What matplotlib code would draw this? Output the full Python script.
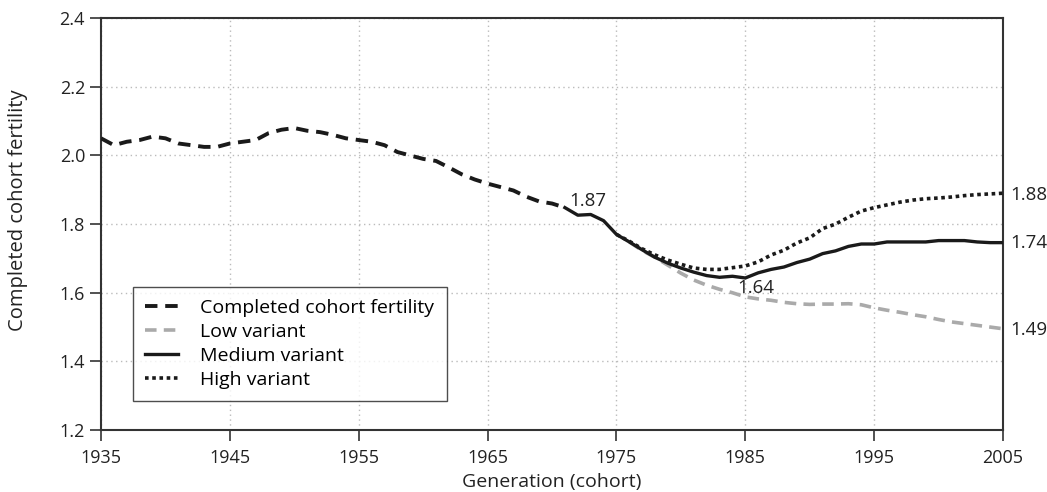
import matplotlib.pyplot as plt

plt.rcParams['font.family'] = ['Open Sans', 'DejaVu Sans']

# completed cohort fertility (observed), 1935-1971
years_obs = list(range(1935, 1972))
completed = [2.05, 2.03, 2.04, 2.045, 2.055, 2.05, 2.035, 2.03, 2.025, 2.025,
             2.035, 2.04, 2.045, 2.065, 2.075, 2.08, 2.072, 2.068, 2.06, 2.05,
             2.045, 2.04, 2.03, 2.01, 2.0, 1.99, 1.984, 1.965, 1.945, 1.93,
             1.918, 1.908, 1.898, 1.88, 1.866, 1.86, 1.848]

# medium variant, 1971-2005
years_med = list(range(1971, 2006))
medium = [1.848, 1.826, 1.828, 1.81, 1.77, 1.748, 1.725, 1.703, 1.686, 1.672,
          1.66, 1.65, 1.645, 1.648, 1.643, 1.658, 1.668, 1.675, 1.688, 1.698,
          1.714, 1.722, 1.735, 1.742, 1.742, 1.748, 1.748, 1.748, 1.748, 1.752,
          1.752, 1.752, 1.748, 1.746, 1.746]

# high variant, 1975-2005
years_high = list(range(1975, 2006))
high = [1.77, 1.75, 1.728, 1.71, 1.695, 1.683, 1.672, 1.668, 1.668, 1.673,
        1.678, 1.69, 1.71, 1.724, 1.745, 1.76, 1.787, 1.80, 1.82, 1.838,
        1.848, 1.856, 1.864, 1.87, 1.874, 1.876, 1.879, 1.883, 1.886, 1.888, 1.89]

# low variant, 1976-2005
years_low = list(range(1976, 2006))
low = [1.748, 1.723, 1.703, 1.68, 1.657, 1.637, 1.622, 1.61, 1.6, 1.588,
       1.582, 1.578, 1.572, 1.568, 1.566, 1.567, 1.567, 1.568, 1.565, 1.556,
       1.549, 1.543, 1.536, 1.53, 1.522, 1.515, 1.51, 1.505, 1.5, 1.495]

xticks = [1935, 1945, 1955, 1965, 1975, 1985, 1995, 2005]
yticks = [1.2, 1.4, 1.6, 1.8, 2.0, 2.2, 2.4]

fig = plt.figure(figsize=(10.47, 4.92), dpi=100)
ax = fig.add_axes([0.0965, 0.126, 0.8615, 0.837])

ax.plot(years_low, low, color='#aaaaaa', lw=2.6, dashes=(3.2, 2.0),
        label='Low variant', zorder=3)
ax.plot(years_high, high, color='#1a1a1a', lw=2.6, dashes=(1.0, 1.0),
        label='High variant', zorder=4)
ax.plot(years_med, medium, color='#1a1a1a', lw=2.4, label='Medium variant', zorder=5)
ax.plot(years_obs, completed, color='#1a1a1a', lw=2.8, dashes=(3.2, 2.0),
        label='Completed cohort fertility', zorder=6)

tc = '#222222'
ax.text(1972.8, 1.866, '1.87', ha='center', va='center', fontsize=13.5, color=tc)
ax.text(1985.8, 1.613, '1.64', ha='center', va='center', fontsize=13.5, color=tc)
ax.text(2005.55, 1.884, '1.88', ha='left', va='center', fontsize=13.5, color=tc, clip_on=False)
ax.text(2005.55, 1.745, '1.74', ha='left', va='center', fontsize=13.5, color=tc, clip_on=False)
ax.text(2005.55, 1.49, '1.49', ha='left', va='center', fontsize=13.5, color=tc, clip_on=False)

ax.set_xlim(1935, 2005)
ax.set_ylim(1.2, 2.4)
ax.set_xticks(xticks)
ax.set_yticks(yticks)
ax.set_yticklabels([f'{v:.1f}' for v in yticks])
ax.tick_params(axis='both', direction='out', length=8, width=1.2, color='#333333',
               labelsize=13, labelcolor=tc)
ax.tick_params(axis='x', pad=6)
ax.grid(True, color='#bbbbbb', linestyle=(0, (1, 2.5)), lw=1.0)
ax.set_axisbelow(True)
for s in ax.spines.values():
    s.set_color('#333333')
    s.set_linewidth(1.5)

ax.set_xlabel('Generation (cohort)', fontsize=14, color=tc, va='center')
ax.set_ylabel('Completed cohort fertility', fontsize=14.5, color=tc, va='center')
ax.xaxis.set_label_coords(0.5, -0.126)
ax.yaxis.set_label_coords(-0.092, 0.534)

handles, labels = ax.get_legend_handles_labels()
order = [3, 0, 2, 1]
leg = fig.legend([handles[i] for i in order], [labels[i] for i in order],
                 loc='upper left', bbox_to_anchor=(133 / 1047, 1 - 287 / 492),
                 borderaxespad=0, fontsize=14, frameon=True, fancybox=False,
                 edgecolor='#222222', handlelength=1.7, handletextpad=1.15,
                 labelspacing=0.3, borderpad=0.62)
leg.get_frame().set_linewidth(1.0)
leg.set_zorder(10)

fig.savefig('out.png', dpi=100)
